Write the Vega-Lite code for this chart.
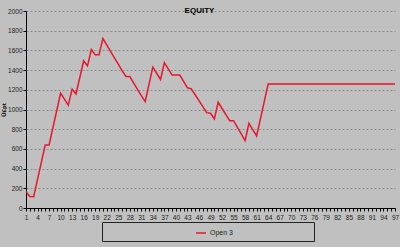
{
  "$schema": "https://vega.github.io/schema/vega-lite/v6.json",
  "width": 369,
  "height": 197,
  "autosize": {"type": "none"},
  "padding": {"left": 26, "top": 11, "right": 5, "bottom": 39},
  "background": "#c0c0c0",
  "title": {"text": "EQUITY", "fontSize": 8, "fontWeight": "bold", "font": "Liberation Sans", "color": "#000", "anchor": "middle", "dx": -11, "offset": -11, "baseline": "middle"},
  "config": {
    "view": {"stroke": null, "fill": "#c0c0c0"},
    "font": "Liberation Sans",
    "axis": {"labelFont": "Liberation Sans", "labelFontSize": 6.5, "labelColor": "#222", "domainColor": "#000", "tickColor": "#000", "tickSize": 3}
  },
  "data": {"values": [
    {"x":1,"y":165,"series":"Open 3"},{"x":2,"y":117,"series":"Open 3"},{"x":3,"y":115,"series":"Open 3"},{"x":4,"y":290,"series":"Open 3"},{"x":5,"y":465,"series":"Open 3"},
    {"x":6,"y":640,"series":"Open 3"},{"x":7,"y":640,"series":"Open 3"},{"x":8,"y":815,"series":"Open 3"},{"x":9,"y":990,"series":"Open 3"},{"x":10,"y":1165,"series":"Open 3"},
    {"x":11,"y":1105,"series":"Open 3"},{"x":12,"y":1045,"series":"Open 3"},{"x":13,"y":1207,"series":"Open 3"},{"x":14,"y":1157,"series":"Open 3"},{"x":15,"y":1325,"series":"Open 3"},
    {"x":16,"y":1494,"series":"Open 3"},{"x":17,"y":1443,"series":"Open 3"},{"x":18,"y":1609,"series":"Open 3"},{"x":19,"y":1555,"series":"Open 3"},{"x":20,"y":1555,"series":"Open 3"},
    {"x":21,"y":1720,"series":"Open 3"},{"x":22,"y":1655,"series":"Open 3"},{"x":23,"y":1590,"series":"Open 3"},{"x":24,"y":1525,"series":"Open 3"},{"x":25,"y":1460,"series":"Open 3"},
    {"x":26,"y":1395,"series":"Open 3"},{"x":27,"y":1335,"series":"Open 3"},{"x":28,"y":1335,"series":"Open 3"},{"x":29,"y":1270,"series":"Open 3"},{"x":30,"y":1205,"series":"Open 3"},
    {"x":31,"y":1140,"series":"Open 3"},{"x":32,"y":1080,"series":"Open 3"},{"x":33,"y":1255,"series":"Open 3"},{"x":34,"y":1430,"series":"Open 3"},{"x":35,"y":1368,"series":"Open 3"},
    {"x":36,"y":1305,"series":"Open 3"},{"x":37,"y":1475,"series":"Open 3"},{"x":38,"y":1413,"series":"Open 3"},{"x":39,"y":1350,"series":"Open 3"},{"x":40,"y":1350,"series":"Open 3"},
    {"x":41,"y":1350,"series":"Open 3"},{"x":42,"y":1285,"series":"Open 3"},{"x":43,"y":1220,"series":"Open 3"},{"x":44,"y":1210,"series":"Open 3"},{"x":45,"y":1150,"series":"Open 3"},
    {"x":46,"y":1090,"series":"Open 3"},{"x":47,"y":1030,"series":"Open 3"},{"x":48,"y":968,"series":"Open 3"},{"x":49,"y":962,"series":"Open 3"},{"x":50,"y":904,"series":"Open 3"},
    {"x":51,"y":1073,"series":"Open 3"},{"x":52,"y":1010,"series":"Open 3"},{"x":53,"y":948,"series":"Open 3"},{"x":54,"y":887,"series":"Open 3"},{"x":55,"y":887,"series":"Open 3"},
    {"x":56,"y":819,"series":"Open 3"},{"x":57,"y":752,"series":"Open 3"},{"x":58,"y":684,"series":"Open 3"},{"x":59,"y":860,"series":"Open 3"},{"x":60,"y":796,"series":"Open 3"},
    {"x":61,"y":732,"series":"Open 3"},{"x":62,"y":908,"series":"Open 3"},{"x":63,"y":1083,"series":"Open 3"},{"x":64,"y":1258,"series":"Open 3"},{"x":65,"y":1258,"series":"Open 3"},
    {"x":66,"y":1258,"series":"Open 3"},{"x":67,"y":1258,"series":"Open 3"},{"x":68,"y":1258,"series":"Open 3"},{"x":69,"y":1258,"series":"Open 3"},{"x":70,"y":1258,"series":"Open 3"},
    {"x":71,"y":1258,"series":"Open 3"},{"x":72,"y":1258,"series":"Open 3"},{"x":73,"y":1258,"series":"Open 3"},{"x":74,"y":1258,"series":"Open 3"},{"x":75,"y":1258,"series":"Open 3"},
    {"x":76,"y":1258,"series":"Open 3"},{"x":77,"y":1258,"series":"Open 3"},{"x":78,"y":1258,"series":"Open 3"},{"x":79,"y":1258,"series":"Open 3"},{"x":80,"y":1258,"series":"Open 3"},
    {"x":81,"y":1258,"series":"Open 3"},{"x":82,"y":1258,"series":"Open 3"},{"x":83,"y":1258,"series":"Open 3"},{"x":84,"y":1258,"series":"Open 3"},{"x":85,"y":1258,"series":"Open 3"},
    {"x":86,"y":1258,"series":"Open 3"},{"x":87,"y":1258,"series":"Open 3"},{"x":88,"y":1258,"series":"Open 3"},{"x":89,"y":1258,"series":"Open 3"},{"x":90,"y":1258,"series":"Open 3"},
    {"x":91,"y":1258,"series":"Open 3"},{"x":92,"y":1258,"series":"Open 3"},{"x":93,"y":1258,"series":"Open 3"},{"x":94,"y":1258,"series":"Open 3"},{"x":95,"y":1258,"series":"Open 3"},
    {"x":96,"y":1258,"series":"Open 3"},{"x":97,"y":1258,"series":"Open 3"}
  ]},
  "mark": {"type": "line", "strokeWidth": 1.5},
  "encoding": {
    "x": {
      "field": "x", "type": "quantitative",
      "scale": {"domain": [1, 97], "nice": false, "zero": false},
      "axis": {"title": null, "grid": false, "tickCount": 96, "labelOverlap": false, "labelFlush": false, "labelPadding": 3,
               "labelExpr": "(datum.value - 1) % 3 == 0 ? datum.label : ''"}
    },
    "y": {
      "field": "y", "type": "quantitative",
      "scale": {"domain": [0, 2000], "nice": false},
      "axis": {"title": "Ũ£pt", "titleFontSize": 6, "titleFontWeight": "bold", "titleColor": "#000", "titlePadding": 1,
               "values": [0, 200, 400, 600, 800, 1000, 1200, 1400, 1600, 1800, 2000], "format": "d", "labelPadding": 1,
               "grid": true, "gridColor": "#8c8c8c", "gridDash": [2, 2], "gridWidth": 1}
    },
    "color": {
      "field": "series", "type": "nominal",
      "scale": {"range": ["#e8162c"]},
      "legend": {"title": null, "orient": "none", "legendX": 76, "legendY": 211, "symbolType": "stroke", "symbolSize": 100,
                 "symbolStrokeWidth": 1.5, "symbolOffset": 88, "padding": 5, "strokeColor": "#222", "fillColor": "#c0c0c0",
                 "labelFontSize": 7, "labelColor": "#222", "labelOffset": 3, "labelLimit": 300,
                 "labelExpr": "datum.label + '\u00a0\u00a0\u00a0\u00a0\u00a0\u00a0\u00a0\u00a0\u00a0\u00a0\u00a0\u00a0\u00a0\u00a0\u00a0\u00a0\u00a0\u00a0\u00a0\u00a0\u00a0\u00a0\u00a0\u00a0\u00a0\u00a0\u00a0\u00a0\u00a0\u00a0\u00a0\u00a0\u00a0\u00a0\u00a0\u00a0\u00a0\u00a0\u00a0\u200b'"}
    }
  }
}
